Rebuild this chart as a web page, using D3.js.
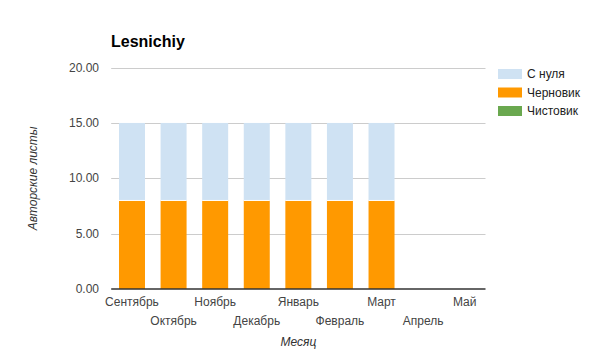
<!DOCTYPE html>
<html><head><meta charset="utf-8">
<script src="https://cdn.jsdelivr.net/npm/d3@7"></script>
<style>body{margin:0;background:#fff;} text{font-family:Arial,"Liberation Sans",sans-serif;}</style>
</head><body>
<svg id="c" width="589" height="357"></svg>
<script>
const months = ["Сентябрь","Октябрь","Ноябрь","Декабрь","Январь","Февраль","Март","Апрель","Май"];
const seriesNames = ["Черновик","С нуля","Чистовик"];
const chernovik = [8,8,8,8,8,8,8,0,0];
const sNulya   = [7,7,7,7,7,7,7,0,0];
const chistovik = [0,0,0,0,0,0,0,0,0];
const yTicks = [0,5,10,15,20];
const colors = {"С нуля":"#cfe2f3","Черновик":"#ff9900","Чистовик":"#6aa84f"};
const legendOrder = ["С нуля","Черновик","Чистовик"];

const svg = d3.select("#c");
const L=111.2, R=485.5, T=67.6, B=289;
const x = d3.scaleBand().domain(months).range([L,R]).paddingInner(0.375).paddingOuter(0.1875);
const y = d3.scaleLinear().domain([0,20]).range([B,T]);

const rows = months.map((m,i)=>({m, "Черновик":chernovik[i], "С нуля":sNulya[i], "Чистовик":chistovik[i]}));
const stack = d3.stack().keys(seriesNames)(rows);

// grid
svg.append("g").selectAll("line").data(yTicks.filter(d=>d>0)).join("line")
  .attr("x1",L).attr("x2",R).attr("y1",d=>Math.round(y(d))+0.5).attr("y2",d=>Math.round(y(d))+0.5)
  .attr("stroke","#cccccc").attr("stroke-width",1);

// bars
svg.append("g").selectAll("g").data(stack).join("g").attr("fill",d=>colors[d.key])
  .selectAll("rect").data(d=>d).join("rect")
  .attr("x",d=>x(d.data.m)).attr("width",x.bandwidth())
  .attr("y",d=>y(d[1])).attr("height",d=>Math.max(0,y(d[0])-y(d[1])-(d[1]>d[0]?0:0)));

// white separators between stacked segments
svg.append("g").selectAll("line").data(rows.filter(r=>r["Черновик"]>0&&r["С нуля"]>0)).join("line")
  .attr("x1",d=>x(d.m)).attr("x2",d=>x(d.m)+x.bandwidth())
  .attr("y1",d=>y(d["Черновик"])).attr("y2",d=>y(d["Черновик"]))
  .attr("stroke","#fff").attr("stroke-width",1);

// baseline
svg.append("line").attr("x1",L).attr("x2",R).attr("y1",B).attr("y2",B).attr("stroke","#333").attr("stroke-width",1.5);

// y tick labels
svg.append("g").selectAll("text").data(yTicks).join("text")
  .attr("x",99).attr("y",d=>y(d)+4).attr("text-anchor","end")
  .attr("font-size",12).attr("fill","#444").text(d=>d3.format(".2f")(d));

// x tick labels (staggered)
svg.append("g").selectAll("text").data(months).join("text")
  .attr("x",d=>x(d)+x.bandwidth()/2).attr("y",(d,i)=>i%2===0?306:325)
  .attr("text-anchor","middle").attr("font-size",12).attr("fill","#444").text(d=>d);

// title
svg.append("text").attr("x",111).attr("y",47).attr("font-size",16).attr("font-weight","bold").attr("fill","#000").text("Lesnichiy");

// axis titles
svg.append("text").attr("x",(L+R)/2).attr("y",346).attr("text-anchor","middle").attr("font-size",12)
  .attr("font-style","italic").attr("fill","#333").text("Месяц");
svg.append("text").attr("transform",`translate(37,${(T+B)/2}) rotate(-90)`).attr("text-anchor","middle")
  .attr("font-size",12).attr("font-style","italic").attr("fill","#333").text("Авторские листы");

// legend
const lg = svg.append("g").selectAll("g").data(legendOrder).join("g")
  .attr("transform",(d,i)=>`translate(498,${69+i*18.5})`);
lg.append("rect").attr("width",24).attr("height",10).attr("fill",d=>colors[d]);
lg.append("text").attr("x",29).attr("y",9).attr("font-size",12).attr("fill","#222").text(d=>d);
</script>
</body></html>
